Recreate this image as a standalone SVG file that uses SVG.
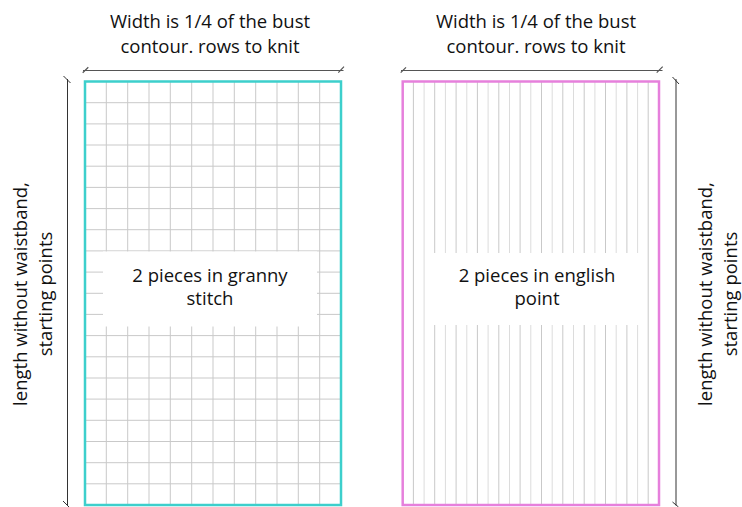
<svg xmlns="http://www.w3.org/2000/svg" width="742" height="507" viewBox="0 0 742 507">
<style>
.t{font-family:"Open Sans","Liberation Sans",sans-serif;font-size:18.5px;fill:#111;text-anchor:middle}
.grid{stroke:#c9c9c9;stroke-width:1;fill:none}
.grid2{stroke:#dcdcdc;stroke-width:1;fill:none}
.dim{stroke:#555;stroke-width:1.2;fill:none}
.dimv{stroke:#333;stroke-width:1;fill:none}
</style>
<rect width="742" height="507" fill="#fff"/>
<g id="left-piece">
<path class="grid" d="M106.3 81.5V505M127.7 81.5V505M149 81.5V505M170.3 81.5V505M191.7 81.5V505M213 81.5V505M234.3 81.5V505M255.7 81.5V505M277 81.5V505M298.3 81.5V505M319.7 81.5V505"/>
<path class="grid" d="M85 102.7H341M85 123.9H341M85 145H341M85 166.2H341M85 187.4H341M85 208.6H341M85 229.7H341M85 250.9H341M85 272.1H341M85 293.3H341M85 314.4H341M85 335.6H341M85 356.8H341M85 378H341M85 399.1H341M85 420.3H341M85 441.5H341M85 462.7H341M85 483.8H341"/>
<rect x="85" y="81.5" width="256" height="423.5" fill="none" stroke="#3dcfcc" stroke-width="2.5"/>
<rect x="103" y="251.5" width="214" height="75" fill="#fff"/>
<text class="t" x="210" y="282">2 pieces in granny</text>
<text class="t" x="210" y="305">stitch</text>
</g>
<g id="right-piece">
<path class="grid" d="M413.4 81.5V505M434.7 81.5V505M456.1 81.5V505M477.4 81.5V505M498.8 81.5V505M520.1 81.5V505M541.5 81.5V505M562.8 81.5V505M584.2 81.5V505M605.5 81.5V505M626.9 81.5V505M648.2 81.5V505"/>
<path class="grid2" d="M424.1 81.5V505M445.4 81.5V505M466.8 81.5V505M488.1 81.5V505M509.5 81.5V505M530.8 81.5V505M552.2 81.5V505M573.5 81.5V505M594.9 81.5V505M616.2 81.5V505M637.6 81.5V505"/>
<rect x="402.7" y="81.5" width="256.3" height="423.5" fill="none" stroke="#e680dc" stroke-width="2.5"/>
<rect x="430" y="253" width="214" height="72" fill="#fff"/>
<text class="t" x="537" y="282">2 pieces in english</text>
<text class="t" x="537" y="305">point</text>
</g>
<g id="connectors">
<path class="dim" d="M83 70.5H343.5M82.7 72.7L88.3 67.3M338.3 72.7L344 66.7"/>
<path class="dim" d="M401 70.5H662.5M400.7 72.7L406 67.3M656.7 72.7L662.7 66.7"/>
<path class="dimv" d="M67.5 79V505.5M63.5 76L70.5 83M63 501L69 507"/>
<path class="dimv" d="M676 79V505.5M672.5 77L679 84M672.5 502L678.5 507"/>
</g>
<g id="labels">
<text class="t" x="210" y="28">Width is 1/4 of the bust</text>
<text class="t" x="210" y="53">contour. rows to knit</text>
<text class="t" x="536" y="28">Width is 1/4 of the bust</text>
<text class="t" x="536" y="53">contour. rows to knit</text>
<text class="t" transform="translate(27,294) rotate(-90)">length without waistband,</text>
<text class="t" transform="translate(52,294) rotate(-90)">starting points</text>
<text class="t" transform="translate(712,294) rotate(-90)">length without waistband,</text>
<text class="t" transform="translate(737,294) rotate(-90)">starting points</text>
</g>
</svg>
